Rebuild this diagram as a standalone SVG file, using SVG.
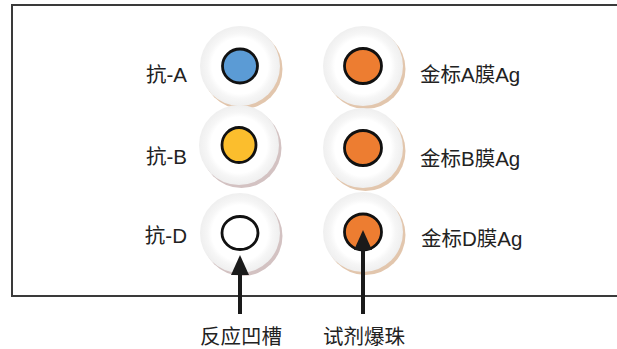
<svg xmlns="http://www.w3.org/2000/svg" width="617" height="349" viewBox="0 0 617 349">
  <defs>
    <radialGradient id="halo" cx="0.5" cy="0.5" r="0.5">
      <stop offset="0" stop-color="#ffffff"/>
      <stop offset="0.7" stop-color="#ffffff"/>
      <stop offset="0.82" stop-color="#f6f6f6"/>
      <stop offset="1" stop-color="#efefef"/>
    </radialGradient>
    <marker id="ah" markerUnits="userSpaceOnUse" markerWidth="20" markerHeight="18" viewBox="0 0 20 18" refX="1" refY="9" orient="auto">
      <path d="M0,0 L20,9 L0,18 z" fill="#1a1a1a"/>
    </marker>
  </defs>
  <style>
    .lbl { font-family: "Liberation Sans", "Noto Sans CJK SC", sans-serif; font-size: 20.5px; fill: #222; }
    .halo { fill: url(#halo); }
    .tan { fill: #e2c6ad; }
    .mauve { fill: #d3c2c2; }
    .well { stroke: #111; stroke-width: 2.8; }
    .conn { stroke: #1a1a1a; stroke-width: 4; fill: none; }
  </style>
  <rect x="0" y="0" width="617" height="349" fill="#ffffff"/>
  <path d="M640,5 H12 V296 H640" fill="none" stroke="#3a3a3a" stroke-width="2"/>

  <g id="well-a">
    <circle cx="242.5" cy="69" r="40" class="tan"/>
    <circle cx="240" cy="66" r="40" class="halo"/>
    <ellipse cx="240" cy="66" rx="17.5" ry="17" fill="#5b9bd5" class="well"/>
  </g>
  <g id="well-b">
    <circle cx="241.5" cy="148" r="40" class="mauve"/>
    <circle cx="239" cy="145" r="40" class="halo"/>
    <ellipse cx="239" cy="145" rx="17" ry="17.5" fill="#fbbe2d" class="well"/>
  </g>
  <g id="well-d">
    <circle cx="242.5" cy="236" r="40" class="mauve"/>
    <circle cx="240" cy="233" r="40" class="halo"/>
    <ellipse cx="240" cy="233" rx="18" ry="16.5" fill="#ffffff" class="well"/>
  </g>
  <g id="bead-a">
    <circle cx="365.5" cy="69" r="40" class="tan"/>
    <circle cx="363" cy="66" r="40" class="halo"/>
    <ellipse cx="363" cy="66" rx="18.5" ry="17.5" fill="#ed7d31" class="well"/>
  </g>
  <g id="bead-b">
    <circle cx="365.5" cy="151" r="40" class="tan"/>
    <circle cx="363" cy="148" r="40" class="halo"/>
    <ellipse cx="363" cy="148" rx="18.5" ry="17.5" fill="#ed7d31" class="well"/>
  </g>
  <g id="bead-d">
    <circle cx="365.5" cy="235" r="40" class="tan"/>
    <circle cx="363" cy="232" r="40" class="halo"/>
    <ellipse cx="363" cy="232" rx="18.5" ry="18" fill="#ed7d31" class="well"/>
  </g>

  <g id="labels-left">
    <text class="lbl" x="187" y="82" text-anchor="end">抗-A</text>
    <text class="lbl" x="187" y="164" text-anchor="end">抗-B</text>
    <text class="lbl" x="187" y="243" text-anchor="end">抗-D</text>
  </g>
  <g id="labels-right">
    <text class="lbl" x="420" y="82">金标A膜Ag</text>
    <text class="lbl" x="420" y="166">金标B膜Ag</text>
    <text class="lbl" x="421" y="246">金标D膜Ag</text>
  </g>

  <g id="connectors">
    <line class="conn" x1="240" y1="314" x2="240" y2="274" marker-end="url(#ah)"/>
    <line class="conn" x1="363" y1="314" x2="363" y2="249" marker-end="url(#ah)"/>
  </g>

  <g id="label-groove">
    <text class="lbl" x="241" y="344" text-anchor="middle">反应凹槽</text>
  </g>
  <g id="label-bead">
    <text class="lbl" x="364" y="344" text-anchor="middle">试剂爆珠</text>
  </g>
</svg>
